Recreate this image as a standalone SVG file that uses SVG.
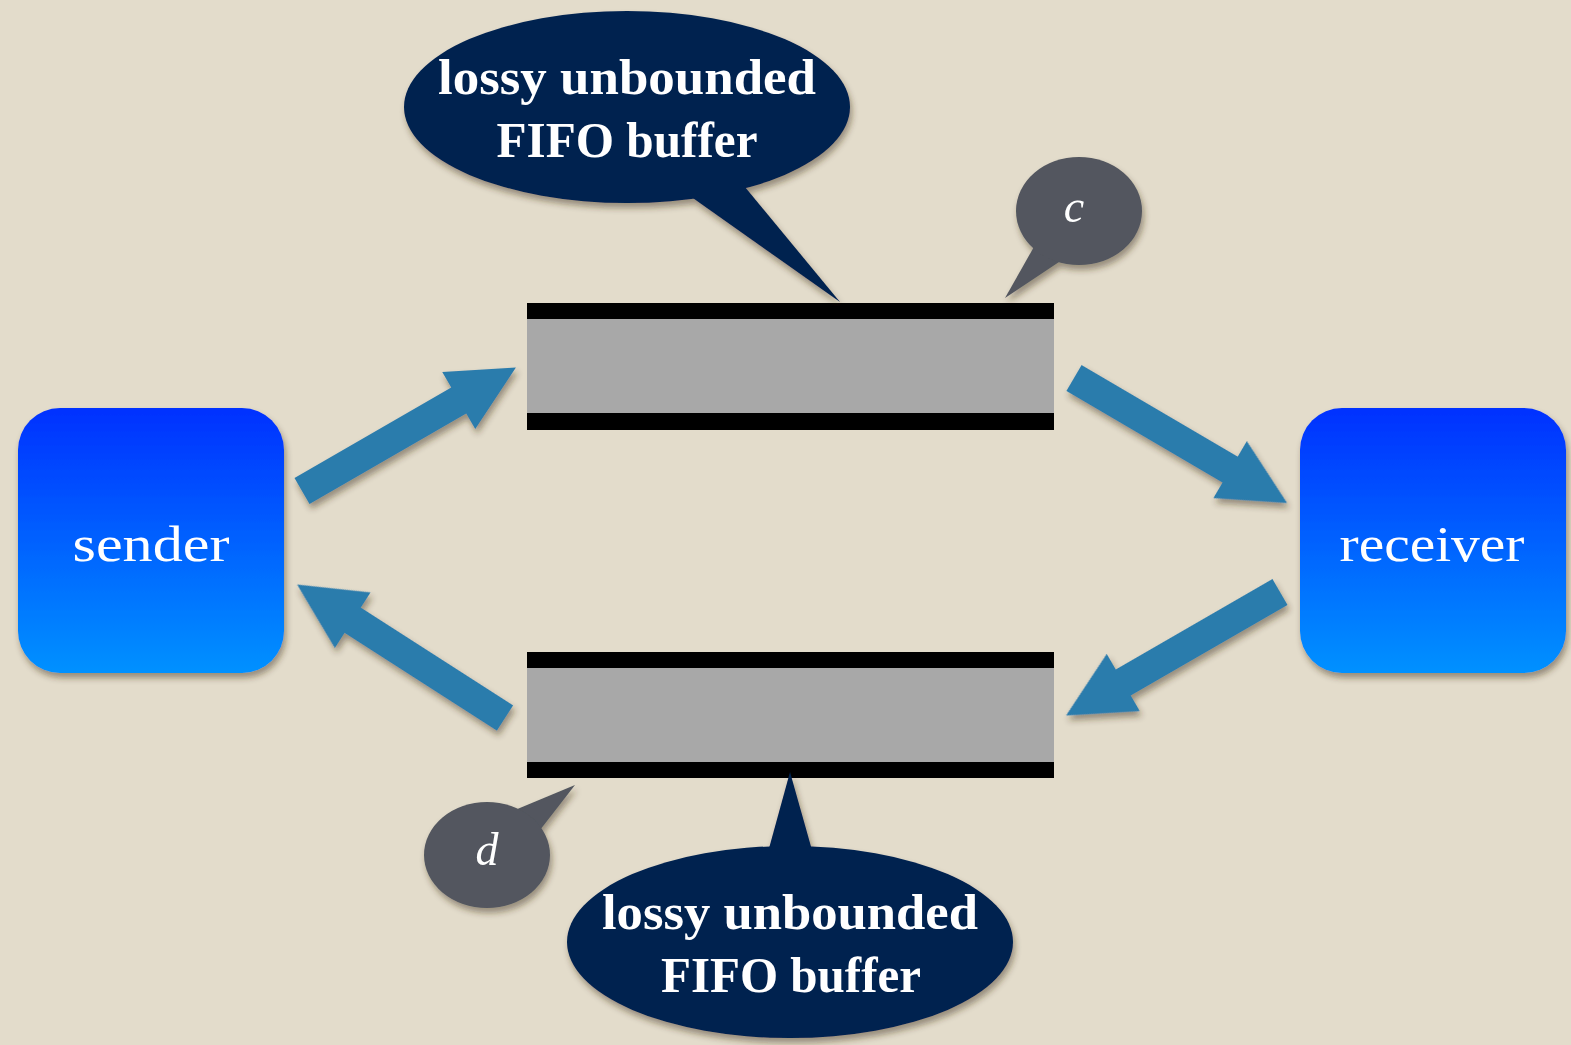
<svg xmlns="http://www.w3.org/2000/svg" width="1571" height="1045" viewBox="0 0 1571 1045">
  <style>
    .label { font-family: "Liberation Serif", "DejaVu Serif", serif; fill: #ffffff; text-anchor: middle; }
    .box-label { font-size: 50px; }
    .bubble-label { font-size: 50px; font-weight: bold; }
    .tag-label { font-size: 46px; font-style: italic; }
    .band { fill: #000000; }
    .core { fill: #a8a8a8; }
    .bubble { fill: #002250; }
    .tag { fill: #52565e; }
    .arrow { fill: #2c7bac; }
  </style>
  <defs>
    <linearGradient id="boxFill" x1="0" y1="0" x2="0" y2="1">
      <stop offset="0" stop-color="#0431ff"/>
      <stop offset="1" stop-color="#0091ff"/>
    </linearGradient>
    <filter id="shadow" x="-20%" y="-20%" width="140%" height="150%">
      <feDropShadow dx="2" dy="5" stdDeviation="3" flood-color="#3b2e1a" flood-opacity="0.45"/>
    </filter>
    <!-- block arrow pointing along +x, tail at origin, length 247 -->
    <polygon id="blockArrow" points="0,-15 181,-15 181,-33 247,0 181,33 181,15 0,15"/>
  </defs>

  <rect x="0" y="0" width="1571" height="1045" fill="#e3dccb"/>

  <!-- channel from sender to receiver -->
  <g id="buffer-c">
    <rect class="core" x="527" y="318" width="527" height="96"/>
    <rect class="band" x="527" y="303" width="527" height="16"/>
    <rect class="band" x="527" y="413" width="527" height="17"/>
  </g>

  <!-- channel from receiver to sender -->
  <g id="buffer-d">
    <rect class="core" x="527" y="667" width="527" height="96"/>
    <rect class="band" x="527" y="652" width="527" height="16"/>
    <rect class="band" x="527" y="762" width="527" height="16"/>
  </g>

  <g id="sender" filter="url(#shadow)">
    <rect x="18" y="408" width="266" height="265" rx="42" fill="url(#boxFill)"/>
    <text class="label box-label" x="151" y="561" textLength="157" lengthAdjust="spacingAndGlyphs">sender</text>
  </g>

  <g id="receiver" filter="url(#shadow)">
    <rect x="1300" y="408" width="266" height="265" rx="42" fill="url(#boxFill)"/>
    <text class="label box-label" x="1432" y="561" textLength="185" lengthAdjust="spacingAndGlyphs">receiver</text>
  </g>

  <g id="connectors" filter="url(#shadow)">
    <use href="#blockArrow" class="arrow" transform="translate(302,491) rotate(-30)"/>
    <use href="#blockArrow" class="arrow" transform="translate(1074,378) rotate(30.4)"/>
    <use href="#blockArrow" class="arrow" transform="translate(1280,592) rotate(150)"/>
    <use href="#blockArrow" class="arrow" transform="translate(505,718) rotate(212.7)"/>
  </g>

  <g id="note-top" filter="url(#shadow)">
    <path class="bubble" d="M690,196 L840,302 L745,187 Z"/>
    <ellipse class="bubble" cx="627" cy="107" rx="223" ry="96"/>
    <text class="label bubble-label" x="627" y="94" textLength="378" lengthAdjust="spacingAndGlyphs">lossy unbounded</text>
    <text class="label bubble-label" x="627" y="157" textLength="261" lengthAdjust="spacingAndGlyphs">FIFO buffer</text>
  </g>

  <g id="tag-c" filter="url(#shadow)">
    <path class="tag" d="M1035,245 L1005,298 L1065,258 Z"/>
    <ellipse class="tag" cx="1079" cy="211" rx="63" ry="54"/>
    <text class="label tag-label" x="1074" y="222">c</text>
  </g>

  <g id="note-bottom" filter="url(#shadow)">
    <path class="bubble" d="M768,852 L790,772 L812,850 Z"/>
    <ellipse class="bubble" cx="790" cy="942" rx="223" ry="96"/>
    <text class="label bubble-label" x="790" y="929" textLength="376" lengthAdjust="spacingAndGlyphs">lossy unbounded</text>
    <text class="label bubble-label" x="791" y="992" textLength="260" lengthAdjust="spacingAndGlyphs">FIFO buffer</text>
  </g>

  <g id="tag-d" filter="url(#shadow)">
    <path class="tag" d="M515,810 L575,785 L540,830 Z"/>
    <ellipse class="tag" cx="487" cy="855" rx="63" ry="53"/>
    <text class="label tag-label" x="487" y="865">d</text>
  </g>
</svg>
